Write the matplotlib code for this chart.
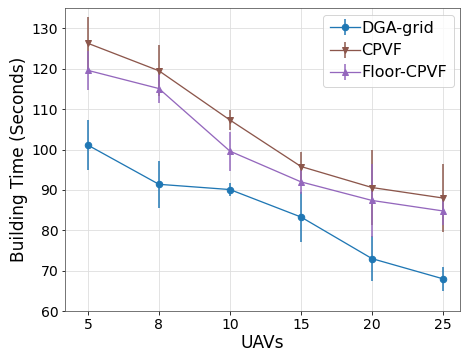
import matplotlib
matplotlib.use("Agg")
import matplotlib.pyplot as plt
import numpy as np

uavs = ["5", "8", "10", "15", "20", "25"]
dga_mean = [101.1, 91.4, 90.1, 83.3, 73.0, 68.0]
dga_err = [6.2, 5.8, 1.5, 6.3, 5.5, 3.0]
cpvf_mean = [126.3, 119.5, 107.3, 95.8, 90.6, 88.0]
cpvf_err = [6.4, 6.3, 2.5, 3.5, 9.3, 8.4]
floor_mean = [119.6, 115.1, 99.6, 92.0, 87.4, 84.8]
floor_err = [4.9, 3.7, 4.8, 3.0, 9.1, 3.5]
yticks = [60, 70, 80, 90, 100, 110, 120, 130]

DPI = 72
fig = plt.figure(figsize=(462 / DPI, 354 / DPI), dpi=DPI)
ax = fig.add_axes([0.141, 0.121, 0.855, 0.856])

x = np.arange(len(uavs))
ax.errorbar(x, dga_mean, yerr=dga_err, color="tab:blue", marker="o", markersize=6.5,
            label="DGA-grid", lw=1.3, elinewidth=1.5)
ax.errorbar(x, cpvf_mean, yerr=cpvf_err, color="tab:brown", marker="v", markersize=6.5,
            label="CPVF", lw=1.3, elinewidth=1.5)
ax.errorbar(x, floor_mean, yerr=floor_err, color="tab:purple", marker="^", markersize=6.5,
            label="Floor-CPVF", lw=1.3, elinewidth=1.5)

ax.set_xticks(x)
ax.set_xticklabels(uavs)
ax.set_yticks(yticks)
ax.set_xlim(-0.32, 5.24)
ax.set_ylim(60, 135)
ax.tick_params(labelsize=14)
ax.set_xlabel("UAVs", fontsize=17, labelpad=2)
ax.set_ylabel("Building Time (Seconds)", fontsize=17, labelpad=4)
ax.grid(True, color="#dddddd", lw=0.8)
ax.set_axisbelow(True)
for s in ax.spines.values():
    s.set_color("#555555")
ax.legend(fontsize=16, loc="upper right", handlelength=1.9, borderpad=0.4,
          labelspacing=0.45, handletextpad=0.1, borderaxespad=0.4)

fig.savefig("out.png", dpi=DPI)
